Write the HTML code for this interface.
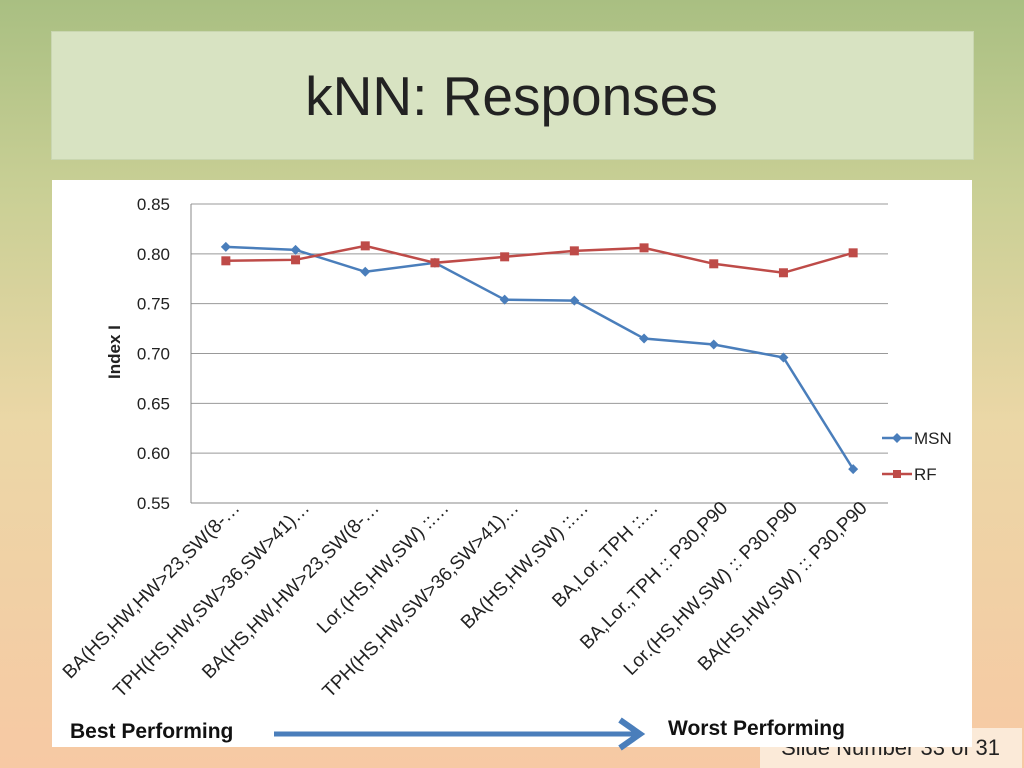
<!DOCTYPE html>
<html><head><meta charset="utf-8"><style>
body{margin:0;width:1024px;height:768px;overflow:hidden;font-family:"Liberation Sans",sans-serif;
background:linear-gradient(#a9bf82 0%,#c9cf95 25%,#ebd7a6 55%,#f7c9a4 100%);position:relative}
.abs{position:absolute}
</style></head><body>
<div class="abs" style="left:51px;top:31px;width:921px;height:127px;background:#d8e3c2;border:1px solid #c9d6b0"></div>
<div class="abs" style="left:51px;top:64px;width:921px;text-align:center;font-size:55px;color:#222">kNN: Responses</div>
<div class="abs" style="left:760px;top:728px;width:262px;height:40px;background:#fbead8;font-size:22px;color:#222;text-align:right;padding-top:7px;box-sizing:border-box;padding-right:22px">Slide Number 33 of 31</div>
<svg class="abs" style="left:0;top:0" width="1024" height="768">
<rect x="52" y="180" width="920" height="567" fill="#fff"/>
<g id="grid"></g><g id="xl"></g><g id="series"></g>
<text x="120" y="352" transform="rotate(-90 120 352)" text-anchor="middle" font-size="17" font-weight="bold" fill="#222">Index I</text>
<g>
<line x1="882" y1="438" x2="912" y2="438" stroke="#4a7ebb" stroke-width="2.5"/><path d="M897 433l5 5-5 5-5-5z" fill="#4a7ebb"/>
<text x="914" y="444" font-size="17" fill="#222">MSN</text>
<line x1="882" y1="474" x2="912" y2="474" stroke="#be4b48" stroke-width="2.5"/><rect x="893" y="470" width="8" height="8" fill="#be4b48"/>
<text x="914" y="480" font-size="17" fill="#222">RF</text>
</g>
<text x="70" y="738" font-size="21" font-weight="bold" fill="#111">Best Performing</text>
<text x="668" y="735" font-size="21" font-weight="bold" fill="#111">Worst Performing</text>
<g><line x1="274" y1="734" x2="635" y2="734" stroke="#4a7ebb" stroke-width="5"/><path d="M620 720 L640 734 L620 748" fill="none" stroke="#4a7ebb" stroke-width="6"/></g>
</svg>
<script>
const categories=["BA(HS,HW,HW>23,SW(8-…","TPH(HS,HW,SW>36,SW>41)…","BA(HS,HW,HW>23,SW(8-…","Lor.(HS,HW,SW) ::…","TPH(HS,HW,SW>36,SW>41)…","BA(HS,HW,SW) ::…","BA,Lor.,TPH ::…","BA,Lor.,TPH :: P30,P90","Lor.(HS,HW,SW) :: P30,P90","BA(HS,HW,SW) :: P30,P90"];
const msn=[0.807,0.804,0.782,0.791,0.754,0.753,0.715,0.709,0.696,0.584];
const rf=[0.793,0.794,0.808,0.791,0.797,0.803,0.806,0.790,0.781,0.801];
const yTicks=[0.55,0.60,0.65,0.70,0.75,0.80,0.85];
const NS="http://www.w3.org/2000/svg";
const x0=191,x1=888,yTop=204,yBot=503,yMin=0.55,yMax=0.85;
const bw=(x1-x0)/categories.length;
const X=i=>x0+bw*(i+0.5), Y=v=>yBot-(v-yMin)/(yMax-yMin)*(yBot-yTop);
function mk(t,a,p){const e=document.createElementNS(NS,t);for(const k in a)e.setAttribute(k,a[k]);p.appendChild(e);return e;}
const g=document.getElementById('grid');
yTicks.forEach(v=>{const l=mk('line',{x1:x0,x2:x1,y1:Y(v),y2:Y(v),stroke:v===yMin?'#888':'#999','stroke-width':1},g);


const t=mk('text',{x:170,y:Y(v)+6,'text-anchor':'end','font-size':17,fill:'#222'},g);t.textContent=v.toFixed(2);

});
const a=mk('line',{x1:x0,x2:x0,y1:yTop,y2:yBot,stroke:'#888'},g);


const xl=document.getElementById('xl');
categories.forEach((c,i)=>{const tx=X(i)+15,ty=509;const t=mk('text',{x:tx,y:ty,'text-anchor':'end','font-size':19,fill:'#222',transform:`rotate(-45 ${tx} ${ty})`},xl);t.textContent=c;

});
const s=document.getElementById('series');
function series(vals,col,name,sq){const p=mk('polyline',{points:vals.map((v,i)=>X(i)+','+Y(v)).join(' '),fill:'none',stroke:col,'stroke-width':2.5},s);


vals.forEach((v,i)=>{let m;if(sq)m=mk('rect',{x:X(i)-4.5,y:Y(v)-4.5,width:9,height:9,fill:col},s);else m=mk('path',{d:`M${X(i)} ${Y(v)-5}l5 5-5 5-5-5z`,fill:col},s);

});}
series(msn,'#4a7ebb','msn',false);series(rf,'#be4b48','rf',true);
</script>
</body></html>
